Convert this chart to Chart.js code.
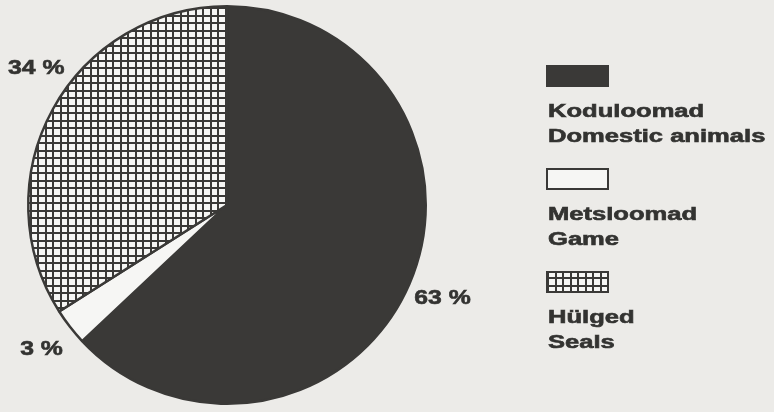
<!DOCTYPE html>
<html>
<head>
<meta charset="utf-8">
<script src="https://cdn.jsdelivr.net/npm/chart.js@4/dist/chart.umd.min.js"></script>
<style>
  html, body { margin: 0; padding: 0; background: #ecebe8; }
  #wrap { position: relative; width: 774px; height: 412px; }
</style>
</head>
<body>
<div id="wrap"><canvas id="pieChart" width="774" height="412"></canvas></div>
<script>
// data
const nimetused = ['Koduloomad', 'Metsloomad', 'Hülged'];
const nimetusedEn = ['Domestic animals', 'Game', 'Seals'];
const protsendid = [63, 3, 34];

const TUME = '#3a3937';
const TEKST = '#333331';
const VALGE = '#f6f6f4';

function looRuudustik() {
    const c = document.createElement('canvas');
    c.width = 15;
    c.height = 15;
    const g = c.getContext('2d');
    g.fillStyle = VALGE;
    g.fillRect(0, 0, 15, 15);
    g.fillStyle = TUME;
    g.fillRect(0, 0, 2, 15);
    g.fillRect(7, 0, 2, 15);
    g.fillRect(0, 0, 15, 2);
    g.fillRect(0, 7, 15, 2);
    return document.getElementById('pieChart').getContext('2d').createPattern(c, 'repeat');
}

const ruudud = looRuudustik();
const taustad = [TUME, VALGE, ruudud];

// laiendatud paks kiri nagu skaneeritud originaalis
function laiTekst(ctx, tekst, x, y, laius) {
    ctx.save();
    ctx.translate(x, y);
    ctx.scale(laius, 1);
    ctx.lineWidth = 0.6;
    ctx.strokeStyle = TEKST;
    ctx.fillText(tekst, 0, 0);
    ctx.strokeText(tekst, 0, 0);
    ctx.restore();
}

// protsendid viilude kõrvale
const protsendiSildid = {
    id: 'protsendiSildid',
    afterDatasetsDraw(chart) {
        const ctx = chart.ctx;
        const meta = chart.getDatasetMeta(0);
        ctx.save();
        ctx.fillStyle = TEKST;
        ctx.font = 'bold 21px "Liberation Sans", Arial, sans-serif';
        ctx.textAlign = 'center';
        ctx.textBaseline = 'middle';
        meta.data.forEach(function(arc, i) {
            const tekst = protsendid[i] + ' %';
            const pool = ctx.measureText(tekst).width * 1.18 / 2;
            const keskNurk = (arc.startAngle + arc.endAngle) / 2;
            const r = arc.outerRadius + 36;
            let x = arc.x + Math.cos(keskNurk) * r;
            let y = arc.y + Math.sin(keskNurk) * r;
            if (x < pool + 8) {
                // ei mahu vasakule: nihuta mööda kaart üles/alla
                x = pool + 8;
                const dx = x - arc.x;
                y = arc.y + Math.sign(Math.sin(keskNurk)) * Math.sqrt(r * r - dx * dx);
            }
            laiTekst(ctx, tekst, x, y, 1.18);
        });
        ctx.restore();
    }
};

// legend: kast, selle all kaks rida teksti
const legend = {
    id: 'legendKastid',
    afterDraw(chart) {
        const ctx = chart.ctx;
        const x0 = 547;
        ctx.save();
        nimetused.forEach(function(nimi, i) {
            const y = 66 + i * 103;
            ctx.fillStyle = taustad[i];
            ctx.fillRect(x0, y, 61, 20);
            ctx.strokeStyle = TUME;
            ctx.lineWidth = 2;
            ctx.strokeRect(x0, y, 61, 20);

            ctx.fillStyle = TEKST;
            ctx.font = 'bold 18px "Liberation Sans", Arial, sans-serif';
            ctx.textBaseline = 'alphabetic';
            ctx.textAlign = 'left';
            laiTekst(ctx, nimi, x0 + 1, y + 51, 1.42);
            laiTekst(ctx, nimetusedEn[i], x0 + 1, y + 76, 1.42);
        });
        ctx.restore();
    }
};

new Chart(document.getElementById('pieChart'), {
    type: 'pie',
    data: {
        labels: nimetused,
        datasets: [{
            data: protsendid,
            backgroundColor: taustad,
            borderColor: TUME,
            borderWidth: 2.5
        }]
    },
    options: {
        responsive: false,
        animation: false,
        events: [],
        layout: {
            padding: { left: 27, top: 5, right: 347, bottom: 7 }
        },
        plugins: {
            legend: { display: false },
            tooltip: { enabled: false }
        }
    },
    plugins: [protsendiSildid, legend]
});
</script>
</body>
</html>
